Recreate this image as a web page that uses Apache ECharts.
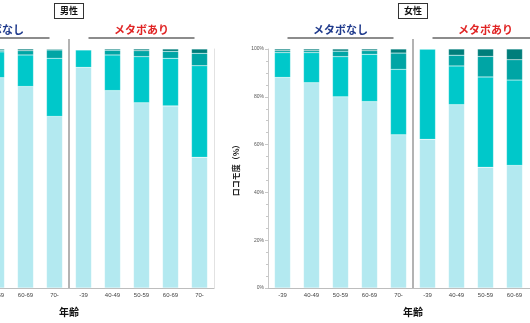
<!DOCTYPE html>
<html><head><meta charset="utf-8">
<script src="https://cdn.jsdelivr.net/npm/echarts@6/dist/echarts.min.js"></script>
<style>html,body{margin:0;padding:0;background:#fff}#c{width:530px;height:323px}</style>
</head><body><div id="c"></div>
<script>
const categories = ['-39','40-49','50-59','60-69','70-','-39','40-49','50-59','60-69','70-'];
const groupNames = ['メタボなし','メタボあり'];
const panelTitles = ['男性','女性'];
const yTicks = [0,20,40,60,80,100];
// 男性 (stacked %, bottom to top)
const male1 = [94.0, 91.0, 88.0, 84.3, 71.8, 92.3, 82.6, 77.5, 76.2, 54.7];
const male2 = [5.0, 7.8, 10.8, 13.2, 24.3, 7.3, 14.9, 19.3, 19.9, 38.3];
const male3 = [0.6, 0.8, 0.7, 1.8, 3.5, 0.2, 2.0, 2.5, 2.9, 5.2];
const male4 = [0.4, 0.4, 0.5, 0.7, 0.4, 0.2, 0.5, 0.7, 1.0, 1.8];
// 女性
const female1 = [88.1, 85.9, 80.0, 78.0, 64.1, 62.2, 76.7, 50.5, 51.3, 45.0];
const female2 = [10.4, 12.6, 16.8, 19.8, 27.4, 37.8, 16.2, 37.8, 35.7, 38.0];
const female3 = [0.8, 0.8, 2.3, 1.5, 6.8, 0.0, 4.5, 8.6, 8.5, 10.0];
const female4 = [0.7, 0.7, 0.9, 0.7, 1.7, 0.0, 2.6, 3.1, 4.5, 7.0];

const colors = ['#B3E9F0','#00C8CA','#00A5A5','#007E7B'];
const jp = '"Noto Sans CJK JP", "Noto Sans", sans-serif';
const lat = '"Liberation Sans", Arial, sans-serif';

const chart = echarts.init(document.getElementById('c'), null, {renderer:'canvas'});

function xAx(gi){
  return {
    type:'category', gridIndex:gi, data:categories,
    axisLine:{show:true, lineStyle:{color:'#bdbdbd', width:1}},
    axisTick:{show:false},
    axisLabel:{fontSize:6, color:'#444', margin:4, fontFamily:lat, interval:0},
    name:'年齢', nameLocation:'middle', nameGap:19,
    nameTextStyle:{fontSize:10, fontWeight:'bold', color:'#111', fontFamily:jp}
  };
}
const yBase = {type:'value', min:0, max:100, interval:20};

const series = [];
[[male1,male2,male3,male4],[female1,female2,female3,female4]].forEach((arr, gi)=>{
  arr.forEach((d, si)=>{
    series.push({
      type:'bar', xAxisIndex:gi, yAxisIndex:gi, stack:'s'+gi, data:d,
      barWidth:16, itemStyle:{color:colors[si], borderColor:'rgba(255,255,255,0.35)', borderWidth:0.5},
      silent:true, animation:false
    });
  });
});

chart.setOption({
  animation:false,
  grid:[
    {left:-76, top:49, width:290, height:239, outerBoundsMode:'none', containLabel:false},
    {left:268, top:49, width:290, height:239, outerBoundsMode:'none', containLabel:false}
  ],
  xAxis:[xAx(0), xAx(1)],
  yAxis:[
    Object.assign({}, yBase, {gridIndex:0, position:'right',
      axisLine:{show:true, lineStyle:{color:'#e2e2e2'}}, axisTick:{show:false},
      axisLabel:{show:false}, splitLine:{show:false}}),
    Object.assign({}, yBase, {gridIndex:1,
      axisLine:{show:true, lineStyle:{color:'#c8c8c8'}},
      axisTick:{show:true, length:3, lineStyle:{color:'#c8c8c8'}},
      minorTick:{show:true, splitNumber:4, length:2, lineStyle:{color:'#c8c8c8'}},
      axisLabel:{fontSize:5, color:'#555', margin:4, fontFamily:lat, formatter:'{value}%'},
      splitLine:{show:false},
      name:'ロコモ度（%）', nameLocation:'middle', nameGap:18, nameRotate:90,
      nameTextStyle:{fontSize:8, fontWeight:'bold', color:'#222', fontFamily:jp}})
  ],
  series: series
});

// decorations positioned from the axes
const graphics = [];
[0,1].forEach(gi=>{
  const p = i => chart.convertToPixel({xAxisIndex:gi}, i);
  const yTop = chart.convertToPixel({yAxisIndex:gi}, 100);
  const yBot = chart.convertToPixel({yAxisIndex:gi}, 0);
  const div = (p(4)+p(5))/2;
  graphics.push({type:'line', shape:{x1:div, y1:yTop-10, x2:div, y2:yBot},
    style:{stroke:'#9a9a9a', lineWidth:1.5}, z:10});
  [2,7].forEach((ci, k)=>{
    const cx = p(ci);
    graphics.push({type:'line', shape:{x1:cx-53, y1:38, x2:cx+53, y2:38},
      style:{stroke:'#8c8c8c', lineWidth:1.8}, z:10});
    graphics.push({type:'text', x:cx, y:30, z:10,
      style:{text:groupNames[k], fill: k===0 ? '#1f3a8c' : '#e02424',
        font:'bold 11px '+jp, textAlign:'center', textVerticalAlign:'middle'}});
  });
  graphics.push({type:'text', x:div, y:11, z:10,
    style:{text:panelTitles[gi], fill:'#111', font:'bold 9px '+jp,
      textAlign:'center', textVerticalAlign:'middle',
      backgroundColor:'#fff', borderColor:'#333', borderWidth:1, padding:[3,5,2,5]}});
});
chart.setOption({graphic: graphics});
</script></body></html>
